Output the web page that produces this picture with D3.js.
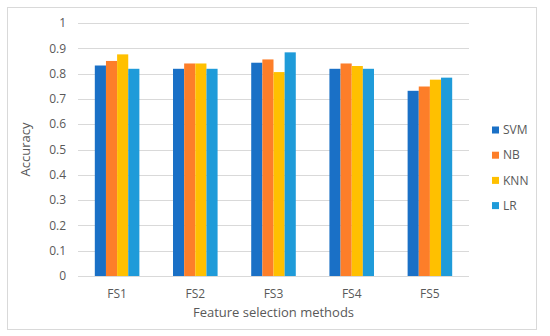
<!DOCTYPE html>
<html>
<head>
<meta charset="utf-8">
<script src="https://cdn.jsdelivr.net/npm/d3@7"></script>
<style>
  body { margin: 0; background: #fff; }
  svg { font-family: "Open Sans", "Liberation Sans", sans-serif; }
</style>
</head>
<body>
<svg id="chart" width="550" height="336"></svg>
<script>
// chart data
const methods = ["FS1", "FS2", "FS3", "FS4", "FS5"];
const classifiers = ["SVM", "NB", "KNN", "LR"];
const svmValues = [0.832, 0.819, 0.843, 0.819, 0.732];
const nbValues = [0.850, 0.840, 0.856, 0.840, 0.749];
const knnValues = [0.876, 0.840, 0.806, 0.830, 0.776];
const lrValues = [0.819, 0.819, 0.884, 0.819, 0.784];
const yTicks = [0, 0.1, 0.2, 0.3, 0.4, 0.5, 0.6, 0.7, 0.8, 0.9, 1];

const series = [svmValues, nbValues, knnValues, lrValues];
const colors = ["#1a70c6", "#fd7e29", "#ffc000", "#1f9bd9"];

const svg = d3.select("#chart");
const margin = { left: 78, right: 81, top: 23, bottom: 60 };
const W = 550, H = 336;

// outer frame
svg.append("rect")
    .attr("x", 7.5).attr("y", 7.5)
    .attr("width", 529).attr("height", 322)
    .attr("fill", "#fff")
    .attr("stroke", "#d9d9d9");

const x0 = d3.scaleBand()
    .domain(methods)
    .range([margin.left, W - margin.right])
    .paddingInner(0.43)
    .paddingOuter(0.215);

const x1 = d3.scaleBand()
    .domain(classifiers)
    .range([0, x0.bandwidth()]);

const y = d3.scaleLinear()
    .domain([0, 1])
    .range([H - margin.bottom, margin.top]);

// gridlines
svg.append("g")
    .selectAll("line")
    .data(yTicks)
    .join("line")
    .attr("x1", margin.left)
    .attr("x2", W - margin.right)
    .attr("y1", d => Math.round(y(d)) + 0.5)
    .attr("y2", d => Math.round(y(d)) + 0.5)
    .attr("stroke", "#d9d9d9");

// y tick labels
svg.append("g")
    .selectAll("text")
    .data(yTicks)
    .join("text")
    .attr("x", 66)
    .attr("y", d => y(d))
    .attr("dy", "0.35em")
    .attr("text-anchor", "end")
    .attr("font-size", 12)
    .attr("fill", "#595959")
    .text(d => d3.format("")(d));

// bars
const groups = svg.append("g")
    .selectAll("g")
    .data(methods)
    .join("g")
    .attr("transform", d => `translate(${x0(d)},0)`);

groups.selectAll("rect")
    .data((m, i) => classifiers.map((c, k) => ({ c, v: series[k][i], k })))
    .join("rect")
    .attr("x", d => x1(d.c))
    .attr("width", x1.bandwidth())
    .attr("y", d => y(d.v))
    .attr("height", d => y(0) - y(d.v))
    .attr("fill", d => colors[d.k]);

// x labels
svg.append("g")
    .selectAll("text")
    .data(methods)
    .join("text")
    .attr("x", d => x0(d) + x0.bandwidth() / 2)
    .attr("y", 294)
    .attr("dy", "0.35em")
    .attr("text-anchor", "middle")
    .attr("font-size", 12)
    .attr("fill", "#595959")
    .text(d => d);

// axis titles
svg.append("text")
    .attr("x", (margin.left + W - margin.right) / 2)
    .attr("y", 312)
    .attr("dy", "0.35em")
    .attr("text-anchor", "middle")
    .attr("font-size", 13)
    .attr("fill", "#595959")
    .text("Feature selection methods");

svg.append("text")
    .attr("transform", `translate(25,${(y(0) + y(1)) / 2}) rotate(-90)`)
    .attr("dy", "0.35em")
    .attr("text-anchor", "middle")
    .attr("font-size", 13)
    .attr("fill", "#595959")
    .text("Accuracy");

// legend
const legend = svg.append("g")
    .selectAll("g")
    .data(classifiers)
    .join("g")
    .attr("transform", (d, i) => `translate(492,${130 + i * 25.2})`);

legend.append("rect")
    .attr("x", 0).attr("y", -3.5)
    .attr("width", 7).attr("height", 7)
    .attr("fill", (d, i) => colors[i]);

legend.append("text")
    .attr("x", 11)
    .attr("dy", "0.35em")
    .attr("font-size", 12)
    .attr("fill", "#595959")
    .text(d => d);
</script>
</body>
</html>
